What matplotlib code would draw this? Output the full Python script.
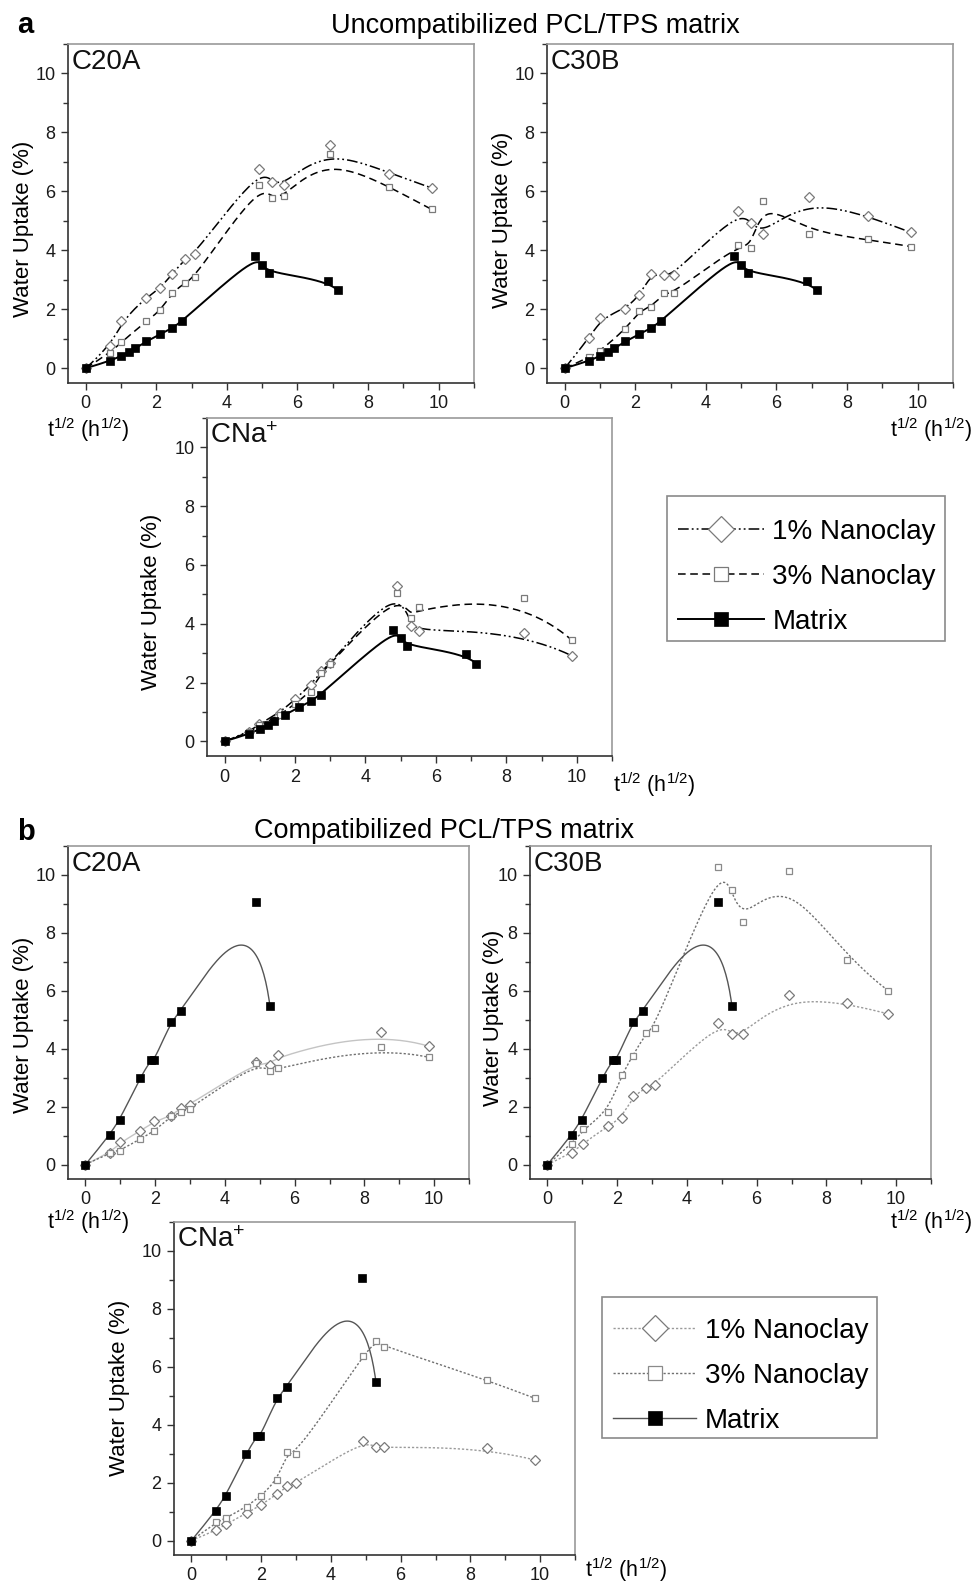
import matplotlib

matplotlib.use("Agg")
import matplotlib.pyplot as plt
import numpy as np
from matplotlib.lines import Line2D
from matplotlib.patches import Rectangle
from matplotlib.ticker import MultipleLocator

plt.rcParams["font.family"] = ["Liberation Sans", "DejaVu Sans"]
plt.rcParams["mathtext.fontset"] = "custom"
plt.rcParams["mathtext.rm"] = "Liberation Sans"
plt.rcParams["mathtext.it"] = "Liberation Sans:italic"
plt.rcParams["mathtext.bf"] = "Liberation Sans:bold"

W, H = 972, 1582

# ---- panel a: uncompatibilized matrix ----
A_MATRIX_X = [0, 0.70, 1.00, 1.22, 1.41, 1.72, 2.12, 2.45, 2.73, 4.79, 5.00, 5.19, 6.86, 7.15]
A_MATRIX_Y = [0, 0.25, 0.42, 0.54, 0.68, 0.91, 1.16, 1.36, 1.59, 3.80, 3.50, 3.23, 2.97, 2.64]

A_NANO_X = [0, 0.70, 1.00, 1.72, 2.12, 2.45, 2.82, 3.09, 4.90, 5.29, 5.62, 6.93, 8.60, 9.80]
A_C20A_1 = [0, 0.74, 1.59, 2.40, 2.72, 3.20, 3.71, 3.88, 6.75, 6.33, 6.21, 7.57, 6.60, 6.12]
A_C20A_3 = [0, 0.53, 0.88, 1.59, 1.96, 2.57, 2.90, 3.08, 6.22, 5.77, 5.84, 7.26, 6.15, 5.39]
A_C30B_1 = [0, 1.02, 1.70, 2.01, 2.47, 3.20, 3.16, 3.18, 5.32, 4.94, 4.54, 5.81, 5.16, 4.61]
A_C30B_3 = [0, 0.37, 0.58, 1.32, 1.95, 2.08, 2.55, 2.55, 4.18, 4.09, 5.69, 4.56, 4.37, 4.13]

A_CNA_X = [0, 0.70, 0.99, 1.57, 2.00, 2.44, 2.75, 3.00, 4.90, 5.29, 5.52, 8.49, 9.86]
A_CNA_1 = [0, 0.32, 0.60, 0.98, 1.43, 1.91, 2.38, 2.66, 5.28, 3.94, 3.75, 3.70, 2.91]
A_CNA_3 = [0, 0.30, 0.54, 0.89, 1.28, 1.68, 2.33, 2.64, 5.05, 4.21, 4.57, 4.87, 3.44]

# ---- panel b: compatibilized matrix ----
B_MATRIX_X = [0, 0.70, 0.99, 1.57, 1.87, 1.98, 2.44, 2.74, 4.89, 5.29]
B_MATRIX_Y = [0, 1.02, 1.55, 3.00, 3.60, 3.60, 4.91, 5.31, 9.06, 5.49]

B_C20A_X = [0, 0.70, 1.00, 1.57, 1.98, 2.44, 2.74, 3.00, 4.89, 5.29, 5.52, 8.48, 9.86]
B_C20A_1 = [0, 0.40, 0.77, 1.15, 1.49, 1.67, 1.95, 2.07, 3.53, 3.44, 3.79, 4.59, 4.08]
B_C20A_3 = [0, 0.40, 0.48, 0.89, 1.15, 1.67, 1.80, 1.93, 3.51, 3.22, 3.33, 4.07, 3.70]

B_C30B_X = [0, 0.71, 1.01, 1.73, 2.13, 2.45, 2.82, 3.08, 4.89, 5.29, 5.61, 6.92, 8.59, 9.78]
B_C30B_1 = [0, 0.40, 0.72, 1.32, 1.61, 2.36, 2.64, 2.76, 4.89, 4.52, 4.51, 5.86, 5.57, 5.20]
B_C30B_3 = [0, 0.72, 1.21, 1.82, 3.10, 3.76, 4.53, 4.71, 10.29, 9.48, 8.36, 10.15, 7.06, 6.00]

B_CNA_X = [0, 0.71, 1.00, 1.58, 2.00, 2.46, 2.75, 3.01, 4.91, 5.29, 5.53, 8.48, 9.85]
B_CNA_1 = [0, 0.35, 0.58, 0.94, 1.23, 1.61, 1.88, 1.98, 3.45, 3.22, 3.22, 3.20, 2.78]
B_CNA_3 = [0, 0.63, 0.78, 1.17, 1.55, 2.09, 3.05, 2.99, 6.36, 6.90, 6.69, 5.55, 4.91]

LEGEND_LABELS = ["1% Nanoclay", "3% Nanoclay", "Matrix"]

DASHDOTDOT = (0, (7, 2, 1.2, 2, 1.2, 2))
DASHED = (0, (5, 3))
DOTTED = (0, (1.6, 1.4))

STYLE_A = {
    "one": dict(color="black", ls=DASHDOTDOT, lw=1.1),
    "three": dict(color="black", ls=DASHED, lw=1.1),
    "matrix": dict(color="black", ls="-", lw=1.4),
    "one_m": dict(marker="D", ms=4.8, mfc="white", mec="#7a7a7a", mew=0.9),
    "three_m": dict(marker="s", ms=4.6, mfc="white", mec="#7a7a7a", mew=0.9),
    "matrix_m": dict(marker="s", ms=5.2, mfc="black", mec="black", mew=0.5),
}
STYLE_B = {
    "one": dict(color="#9a9a9a", ls=DOTTED, lw=1.0),
    "three": dict(color="#707070", ls=DOTTED, lw=1.0),
    "matrix": dict(color="#555555", ls="-", lw=1.0),
    "one_m": dict(marker="D", ms=5.0, mfc="white", mec="#7a7a7a", mew=0.9),
    "three_m": dict(marker="s", ms=4.8, mfc="white", mec="#8a8a8a", mew=0.9),
    "matrix_m": dict(marker="s", ms=5.4, mfc="black", mec="black", mew=0.5),
}


def bspline(x, y, n=400):
    # clamped uniform cubic B-spline with the data points as control points
    pts = np.column_stack([x, y]).astype(float)
    m = len(pts)
    k = min(3, m - 1)
    knots = np.concatenate([np.zeros(k), np.linspace(0, 1, m - k + 1), np.ones(k)])
    t = np.linspace(0, 1, n)
    basis = np.zeros((n, len(knots) - 1))
    for i in range(len(knots) - 1):
        basis[:, i] = (knots[i] <= t) & (t < knots[i + 1])
    basis[-1, :] = 0
    basis[-1, m - 1] = 1
    for d in range(1, k + 1):
        new = np.zeros((n, len(knots) - 1 - d))
        for i in range(len(knots) - 1 - d):
            left = knots[i + d] - knots[i]
            right = knots[i + d + 1] - knots[i + 1]
            if left > 0:
                new[:, i] += (t - knots[i]) / left * basis[:, i]
            if right > 0:
                new[:, i] += (knots[i + d + 1] - t) / right * basis[:, i + 1]
        basis = new
    curve = basis @ pts
    return curve[:, 0], curve[:, 1]


def rect(l, t, r, b):
    return [l / W, 1 - b / H, (r - l) / W, (b - t) / H]


def ftext(fig, x, y, s, **kw):
    fig.text(x / W, 1 - y / H, s, **kw)


def panel(fig, box, name, x_nano, one, three, mx, my, style, one_line=None):
    ax = fig.add_axes(rect(*box))
    for xs, ys, key in [(x_nano, one, "one"), (x_nano, three, "three"), (mx, my, "matrix")]:
        ls = dict(style[key])
        if key == "one" and one_line is not None:
            ls.update(one_line)
        cx, cy = bspline(xs, ys)
        ax.plot(cx, cy, zorder=2, **ls)
        ax.plot(xs, ys, ls="none", zorder=3, **style[key + "_m"])

    ax.set_xlim(-0.5, 11)
    ax.set_ylim(-0.5, 11)
    ax.xaxis.set_major_locator(MultipleLocator(2))
    ax.xaxis.set_minor_locator(MultipleLocator(1))
    ax.yaxis.set_major_locator(MultipleLocator(2))
    ax.yaxis.set_minor_locator(MultipleLocator(1))
    ax.tick_params(which="both", direction="out", top=False, right=False,
                   color="#333333", width=1.0, labelsize=13, labelcolor="#1a1a1a")
    ax.tick_params(which="major", length=5, pad=4)
    ax.tick_params(which="minor", length=3.5)
    for side in ["left", "bottom"]:
        ax.spines[side].set_color("#333333")
        ax.spines[side].set_linewidth(1.2)
    for side in ["top", "right"]:
        ax.spines[side].set_color("#9a9a9a")
        ax.spines[side].set_linewidth(1.2)
    ax.text(0.008, 0.984, name, transform=ax.transAxes, ha="left", va="top",
            fontsize=20, color="#111111")
    return ax


def legend_handles(style):
    handles = []
    for key, ms in [("one", 13), ("three", 9.5), ("matrix", 9.5)]:
        ls = dict(style[key])
        mk = dict(style[key + "_m"])
        mk["ms"] = ms
        handles.append(Line2D([], [], **ls, **mk))
    return handles


def add_legend(fig, style, box, handle_left, first_top, hlen):
    l, t, r, b = box
    fig.patches.append(Rectangle((l / W, 1 - b / H), (r - l) / W, (b - t) / H,
                                 transform=fig.transFigure, fill=False,
                                 edgecolor="#8a8a8a", lw=1.2))
    fig.legend(legend_handles(style), LEGEND_LABELS, loc="upper left",
               bbox_to_anchor=(handle_left / W, 1 - first_top / H),
               bbox_transform=fig.transFigure, fontsize=20, frameon=False,
               handlelength=hlen, handletextpad=0.3, labelspacing=0.68,
               borderpad=0, borderaxespad=0, numpoints=1)


fig = plt.figure(figsize=(W / 100, H / 100), dpi=100)

XLABEL = "t$^{1/2}$ (h$^{1/2}$)"
YLABEL = "Water Uptake (%)"

# ---- a ----
ftext(fig, 17, 33, "a", fontsize=21, fontweight="bold", va="baseline")
ftext(fig, 535, 33, "Uncompatibilized PCL/TPS matrix", fontsize=19.5, ha="center", va="baseline")

panel(fig, (68, 44, 474, 383), "C20A", A_NANO_X, A_C20A_1, A_C20A_3,
      A_MATRIX_X, A_MATRIX_Y, STYLE_A)
panel(fig, (547, 44, 953, 383), "C30B", A_NANO_X, A_C30B_1, A_C30B_3,
      A_MATRIX_X, A_MATRIX_Y, STYLE_A)
panel(fig, (207, 418, 612, 756), "CNa$^{+}$", A_CNA_X, A_CNA_1, A_CNA_3,
      A_MATRIX_X, A_MATRIX_Y, STYLE_A)

ftext(fig, 23, 229, YLABEL, fontsize=16, rotation=90, ha="center", va="center")
ftext(fig, 502, 220, YLABEL, fontsize=16, rotation=90, ha="center", va="center")
ftext(fig, 151, 602, YLABEL, fontsize=16, rotation=90, ha="center", va="center")
ftext(fig, 47, 415, XLABEL, fontsize=15.5, ha="left", va="top")
ftext(fig, 890, 415, XLABEL, fontsize=15.5, ha="left", va="top")
ftext(fig, 613, 770, XLABEL, fontsize=15.5, ha="left", va="top")

add_legend(fig, STYLE_A, (667, 496, 945, 641), 678, 519, 3.1)

# ---- b ----
ftext(fig, 17, 840, "b", fontsize=21, fontweight="bold", va="baseline")
ftext(fig, 444, 838, "Compatibilized PCL/TPS matrix", fontsize=19.5, ha="center", va="baseline")

panel(fig, (68, 846, 469, 1179), "C20A", B_C20A_X, B_C20A_1, B_C20A_3,
      B_MATRIX_X, B_MATRIX_Y, STYLE_B, one_line=dict(color="#c4c4c4", ls="-"))
panel(fig, (530, 846, 931, 1179), "C30B", B_C30B_X, B_C30B_1, B_C30B_3,
      B_MATRIX_X, B_MATRIX_Y, STYLE_B)
panel(fig, (174, 1222, 575, 1555), "CNa$^{+}$", B_CNA_X, B_CNA_1, B_CNA_3,
      B_MATRIX_X, B_MATRIX_Y, STYLE_B)

ftext(fig, 23, 1025, YLABEL, fontsize=16, rotation=90, ha="center", va="center")
ftext(fig, 493, 1018, YLABEL, fontsize=16, rotation=90, ha="center", va="center")
ftext(fig, 120, 1388, YLABEL, fontsize=16, rotation=90, ha="center", va="center")
ftext(fig, 47, 1207, XLABEL, fontsize=15.5, ha="left", va="top")
ftext(fig, 890, 1207, XLABEL, fontsize=15.5, ha="left", va="top")
ftext(fig, 585, 1555, XLABEL, fontsize=15.5, ha="left", va="top")

add_legend(fig, STYLE_B, (602, 1297, 877, 1438), 613, 1318, 3.0)

fig.savefig("out.png", dpi=100)
